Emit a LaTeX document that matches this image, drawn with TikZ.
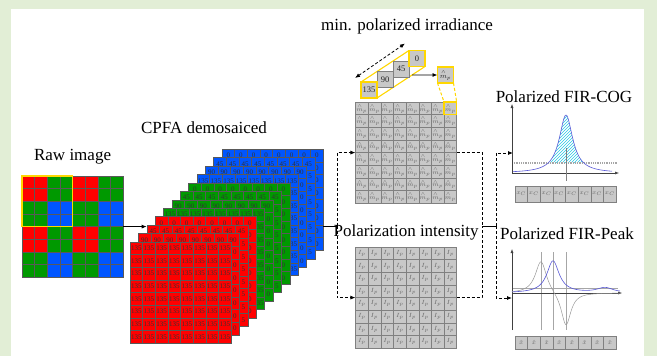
\documentclass[tikz,border=0pt]{standalone}
\usepackage{amsmath}
\usepackage{fontspec}
\setmainfont{Liberation Serif}
\usepackage{tikz}
\usetikzlibrary{arrows.meta,positioning,fit,calc,patterns,backgrounds}

\definecolor{bggreen}{RGB}{226,238,214}
\definecolor{raw0}{RGB}{255,0,0}
\definecolor{raw1}{RGB}{0,153,0}
\definecolor{raw2}{RGB}{0,85,255}
\definecolor{cellgray}{RGB}{200,200,200}
\definecolor{hiyellow}{RGB}{255,215,0}
\definecolor{hatchcyan}{RGB}{40,200,230}
\definecolor{curveblue}{RGB}{90,90,215}

\begin{document}
\begin{tikzpicture}[
  x=1pt, y=-1pt,
  heading/.style={font=\fontsize{17}{20}\selectfont, inner sep=0pt},
  pixel/.style={draw=black!65, line width=0.4pt, minimum width=12.65pt, minimum height=12.65pt,
    inner sep=0pt, outer sep=0pt, font=\fontsize{7}{7}\selectfont, text=black!80},
  graycell/.style={pixel, fill=cellgray, draw=black!50, text=black!60, font=\fontsize{6}{6}\selectfont},
  bigcell/.style={graycell, minimum width=16pt, minimum height=16pt, font=\fontsize{8.5}{9}\selectfont, text=black!85},
  gridbox/.style={inner sep=0pt, outer sep=0pt},
  flow/.style={-{Latex[length=5pt,width=4pt]}, line width=0.8pt, dash pattern=on 3pt off 2pt},
  dashline/.style={line width=0.8pt, dash pattern=on 3pt off 2pt},
  joint/.style={line width=0.8pt},
  axis/.style={-{Latex[length=4pt,width=3pt]}, line width=0.5pt, black!75},
  hilite/.style={draw=hiyellow, line width=1.1pt}
]
\path[use as bounding box] (0,0) rectangle (657,356);
\begin{pgfonlayer}{background}
  \fill[bggreen] (0,0) rectangle (657,356);
  \fill[white] (11,9) rectangle (644,356);
\end{pgfonlayer}

% raw mosaic
\foreach \r in {0,...,7}
  \foreach \c in {0,...,7} {
    \pgfmathtruncatemacro\k{mod(floor(\r/2),2)+mod(floor(\c/2),2)}
    \pgfmathtruncatemacro\v{2*mod(\r,2)+mod(\c,2)}
    \node[pixel, fill=raw\k] (raw-\r-\c) at (28.3+12.65*\c, 182.3+12.65*\r)
      {\ifcase\v 90\or 45\or 135\or 0\fi};
  }
\node[gridbox, fit=(raw-0-0)(raw-7-7)] (raw) {};
\draw[hilite] (raw-0-0.north west) rectangle (raw-3-3.south east);
\node[heading, above=12pt of raw] (rawtitle) {Raw image};

% demosaiced stack, back to front (only the visible digits are set)
\foreach \n/\col/\v/\sfx in {0/raw2/0/0,1/raw2/45/{\phantom{4}5},2/raw2/90/{\phantom{9}0},3/raw2/135/{\phantom{1}35},
    4/raw1/0/0,5/raw1/45/{\phantom{4}5},6/raw1/90/{\phantom{9}0},7/raw1/135/{\phantom{1}35},
    8/raw0/0/0,9/raw0/45/{\phantom{4}5},10/raw0/90/{\phantom{9}0},11/raw0/135/{\phantom{1}35}} {
  \pgfmathsetmacro\lx{130+8.36*(11-\n)+6.33}
  \pgfmathsetmacro\ly{242-8.45*(11-\n)+6.33}
  \foreach \r in {0,...,7}
    \foreach \c in {0,...,7}
      \node[pixel, fill=\col] (cpfa-\n-\r-\c) at (\lx+12.65*\c, \ly+12.65*\r)
        {\ifnum\n=11 \v\else\ifnum\r=0 \v\else\ifnum\c=7 \sfx\fi\fi\fi};
  \node[gridbox, fit=(cpfa-\n-0-0)(cpfa-\n-7-7)] (layer-\n) {};
}
\node[heading] (cpfatitle) at (204,128) {CPFA demosaiced};
\draw[joint, -{Latex[length=5pt,width=4pt]}] (raw.east) -- (raw.east -| layer-9.west);

% min. polarized irradiance
\node[heading] (irtitle) at (407,26) {min. polarized irradiance};
\foreach \v/\i in {135/0,90/1,45/2,0/3}
  \node[bigcell] (ir-\v) at (369+16*\i, 90-10.5*\i) {\v};
\begin{pgfonlayer}{background}
  \draw[hilite] (ir-135.north west) -- (ir-0.north west)
    (ir-135.north east) -- (ir-0.north east)
    (ir-135.south east) -- (ir-0.south east)
    (ir-135.south west) -- (ir-0.south west);
\end{pgfonlayer}
\draw[hilite] (ir-135.north west) rectangle (ir-135.south east);
\draw[hilite] (ir-0.north west) rectangle (ir-0.south east);
\draw[dashline, {Latex[length=5pt,width=4pt]}-{Latex[length=5pt,width=4pt]}]
  ($(ir-135.north west)+(-6,-4)$) -- ($(ir-0.north west)+(-4,-7)$);
\coordinate (irout) at ($(ir-135.south east)!0.73!(ir-0.south east)$);
\node[bigcell, hilite, font=\fontsize{7.5}{8}\selectfont] (mp) at (445.5,75)
  {$\overset{\scriptscriptstyle\wedge}{m}_p$};
\draw[joint, -{Latex[length=5pt,width=4pt]}] (irout) -- (mp.west);

% per-pixel grids
\foreach \r in {0,...,7}
  \foreach \c in {0,...,7} {
    \node[graycell] (m-\r-\c) at (361.8+12.65*\c, 108.3+12.65*\r)
      {$\overset{\scriptscriptstyle\wedge}{m}_p$};
    \node[graycell] (ip-\r-\c) at (361.8+12.65*\c, 253.3+12.65*\r) {$I_p$};
  }
\node[gridbox, fit=(m-0-0)(m-7-7)] (mgrid) {};
\node[gridbox, fit=(ip-0-0)(ip-7-7)] (igrid) {};
\draw[hiyellow, line width=1pt, dash pattern=on 3pt off 2pt]
  (mp.south west) -- (m-0-7.north west) (mp.south east) -- (m-0-7.north east);
\draw[hilite] (m-0-7.north west) rectangle (m-0-7.south east);
\node[heading, above=7pt of igrid] (iptitle) {Polarization intensity};

% connectors
\coordinate (jl) at (337,226);
\coordinate (jr) at (482,226);
\coordinate (jr2) at (496,226);
\coordinate (cogin) at (513,153);
\coordinate (peakin) at (512,298);
\draw[joint] (jl -| layer-0.east) -- (jl);
\draw[flow] (jl) |- (mgrid.west);
\draw[flow] (jl) |- (igrid.west);
\draw[dashline] (mgrid.east) -| (jr);
\draw[dashline] (igrid.east) -| (jr);
\draw[joint] (jr) -- (jr2);
\draw[flow] (jr2) |- (cogin);
\draw[flow] (jr2) |- (peakin);

% FIR-COG
\node[heading] (cogtitle) at (564,97) {Polarized FIR-COG};
\fill[pattern=north east lines, pattern color=hatchcyan]
  plot[domain=548:584, samples=60] (\x,{173-58/(1+((\x-566)/8.2)^2)}) -- cycle;
\draw[gray!70, line width=1.4pt, dash pattern=on 1pt off 0.8pt] (512,163) -- (617,163);
\draw[axis] (512,173) -- (512,104);
\draw[axis] (512,173) -- (619,173);
\draw[curveblue, line width=0.6pt] plot[domain=513:612, samples=140] (\x,{173-58/(1+((\x-566)/8.2)^2)});
\draw[gray, line width=0.5pt] (566,148) -- (566,181);
\foreach \c in {0,...,7}
  \node[graycell, minimum height=16pt] (xc-\c) at (521.3+12.65*\c, 194) {$x_C$};

% FIR-Peak
\node[heading] (peaktitle) at (567,234) {Polarized FIR-Peak};
\foreach \xv in {541,553,566}
  \draw[gray!70, line width=0.4pt] (\xv,252) -- (\xv,330);
\draw[gray!70, line width=0.4pt] (512,288) -- (618,288);
\draw[axis] (512,330) -- (512,249);
\draw[axis] (512,293) -- (622,293);
\draw[gray!80, line width=0.5pt] plot[domain=512:620, samples=220]
  (\x,{293-33/(1+((\x-541)/7)^2)+34/(1+((\x-566)/6)^2)});
\draw[curveblue, line width=0.6pt] plot[domain=512:620, samples=220]
  (\x,{293-32/(1+((\x-553)/7.5)^2)-5/(1+((\x-605)/10)^2)});
\foreach \c in {0,...,7}
  \node[graycell, minimum height=13pt] (xh-\c) at (521.3+12.65*\c, 342.5) {$\hat x$};
\end{tikzpicture}
\end{document}
